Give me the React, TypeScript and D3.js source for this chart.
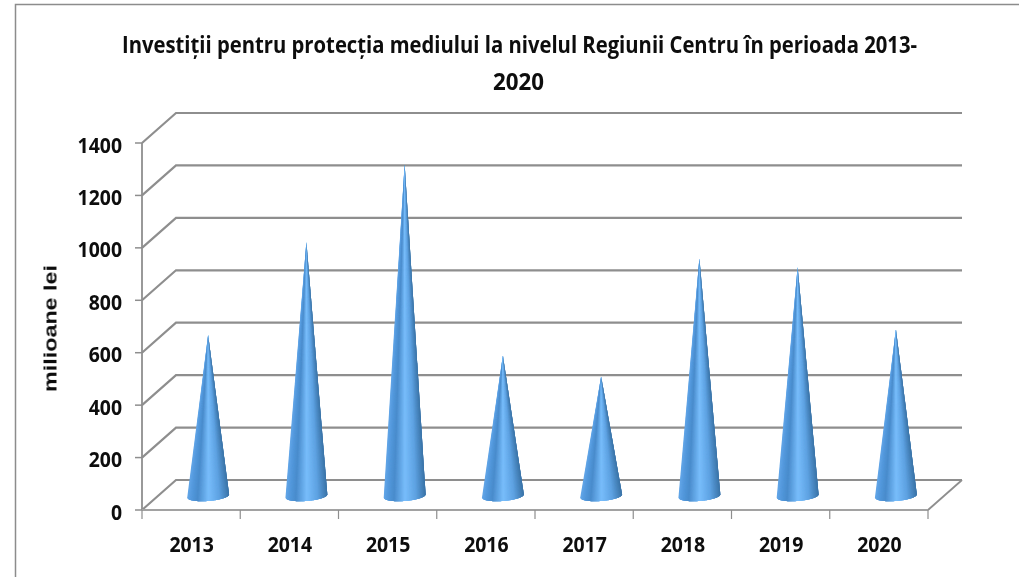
import React from "react";
import * as d3 from "d3";

const years = ["2013", "2014", "2015", "2016", "2017", "2018", "2019", "2020"];
const values = [610, 965, 1262, 532, 452, 903, 870, 632];
const yTicks = [0, 200, 400, 600, 800, 1000, 1200, 1400];
const titleLines = ["Investiții pentru protecția mediului la nivelul Regiunii Centru în perioada 2013-", "2020"];
const axisTitle = "milioane lei";
const shadeStops = [0, 0.1, 0.24, 0.5, 0.76, 1];
const shadeColors = ["#62a6e8", "#5398dc", "#4a8ccc", "#78bdfb", "#5ea2e2", "#3b74a8"];

const W = 1019, H = 577;
const depthX = 34, depthY = -30;
const x = d3.scaleBand<string>().domain(years).range([142, 928]);
const y = d3.scaleLinear().domain([0, 1400]).range([510, 143]);
const shade = d3.scaleLinear<string>().domain(shadeStops).range(shadeColors).interpolate(d3.interpolateRgb);
const GRID = "#8e8e8e";
const LABEL_FONT = "'Open Sans', sans-serif";
const SLICES = 90;
const lineGen = d3.line();
const TITLE_SX = 0.85;

function Cone({ year, value }: { year: string; value: number }) {
  const band = x.bandwidth();
  const cx = x(year)! + band / 2 + depthX / 2;
  const cy = y(0) + depthY / 2 + 1;
  const apexY = y(value) + depthY / 2;
  const rx = 21, ry = 5;
  const tilt = (-4.5 * Math.PI) / 180;
  const pt = (f: number): [number, number] => {
    const t = Math.PI * (1 - f);
    const a = rx * Math.cos(t), b = ry * Math.sin(t);
    return [cx + a * Math.cos(tilt) - b * Math.sin(tilt), cy + a * Math.sin(tilt) + b * Math.cos(tilt)];
  };
  const xf = (f: number) => Math.acos(1 - 2 * Math.min(1, f)) / Math.PI;
  return (
    <g>
      {d3.range(SLICES).map((i) => {
        const f0 = i / SLICES, f1 = (i + 4) / SLICES;
        const c = shade((i + 0.5) / SLICES);
        const a = xf(f0), b = xf(f1);
        return (
          <path
            key={i}
            d={lineGen([[cx, apexY], pt(a), pt((a + b) / 2), pt(b)])! + "Z"}
            fill={c}
          />
        );
      })}
    </g>
  );
}

export default function App() {
  return (
    <svg
      width={W}
      height={H}
      viewBox={`0 0 ${W} ${H}`}
      style={{ position: "absolute", left: 0, top: 0, background: "#fff", display: "block" }}
    >
      <defs>
        <filter id="soft" x="-5%" y="-5%" width="110%" height="110%">
          <feGaussianBlur stdDeviation="0.45" />
        </filter>
      </defs>
      <path d={`M15.5 ${H}V4.5H${W}`} fill="none" stroke="#8c8c8c" strokeWidth={1.5} />

      <g filter="url(#soft)">
        {yTicks.map((t) => (
          <path
            key={t}
            d={`M${x.range()[0]} ${y(t)}L${x.range()[0] + depthX} ${y(t) + depthY}H${x.range()[1] + depthX}`}
            fill="none"
            stroke={GRID}
            strokeWidth={2.2}
          />
        ))}
        <path
          d={`M${x.range()[1]} ${y(0)}L${x.range()[1] + depthX} ${y(0) + depthY}`}
          fill="none"
          stroke={GRID}
          strokeWidth={1.8}
        />
        <line x1={142} x2={142} y1={y(1400)} y2={y(0)} stroke={GRID} strokeWidth={1.8} />
        <line x1={142} x2={928} y1={y(0)} y2={y(0)} stroke="#a2a2a2" strokeWidth={2} />
        {yTicks.map((t) => (
          <line key={t} x1={135} x2={142} y1={y(t)} y2={y(t)} stroke={GRID} strokeWidth={1.5} />
        ))}
        {[...years.map((d) => x(d)!), x.range()[1]].map((px) => (
          <line key={px} x1={px} x2={px} y1={y(0)} y2={y(0) + 9} stroke={GRID} strokeWidth={1.2} />
        ))}

        {years.map((d, i) => (
          <Cone key={d} year={d} value={values[i]} />
        ))}

        {yTicks.map((t) => {
          const s = String(t);
          return (
            <text
              key={t}
              x={122}
              y={y(t) + 9.5}
              textAnchor="end"
              fontFamily={LABEL_FONT}
              fontWeight={700}
              fontSize={21.5}
              textLength={s.length * 11.1}
              lengthAdjust="spacingAndGlyphs"
              fill="#0a0a0a"
            >
              {s}
            </text>
          );
        })}
        {years.map((d) => (
          <text
            key={d}
            x={x(d)! + x.bandwidth() / 2 + 0.5}
            y={552}
            textAnchor="middle"
            fontFamily={LABEL_FONT}
            fontWeight={700}
            fontSize={21.5}
            textLength={44.5}
            lengthAdjust="spacingAndGlyphs"
            fill="#0a0a0a"
          >
            {d}
          </text>
        ))}

        <text
          transform="translate(56.5,392) rotate(-90)"
          fontFamily="'Liberation Sans', Arial, sans-serif"
          fontWeight={700}
          fontSize={17.5}
          textLength={127}
          lengthAdjust="spacingAndGlyphs"
          fill="#111"
        >
          {axisTitle}
        </text>

        <text
          transform={`translate(122,53) scale(${TITLE_SX},1)`}
          fontFamily={LABEL_FONT}
          fontWeight={700}
          fontSize={24}
          textLength={795 / TITLE_SX}
          lengthAdjust="spacingAndGlyphs"
          fill="#0a0a0a"
        >
          {titleLines[0]}
        </text>
        <text
          transform={`translate(493,90) scale(${TITLE_SX},1)`}
          fontFamily={LABEL_FONT}
          fontWeight={700}
          fontSize={24}
          textLength={51 / TITLE_SX}
          lengthAdjust="spacingAndGlyphs"
          fill="#0a0a0a"
        >
          {titleLines[1]}
        </text>
      </g>
    </svg>
  );
}
